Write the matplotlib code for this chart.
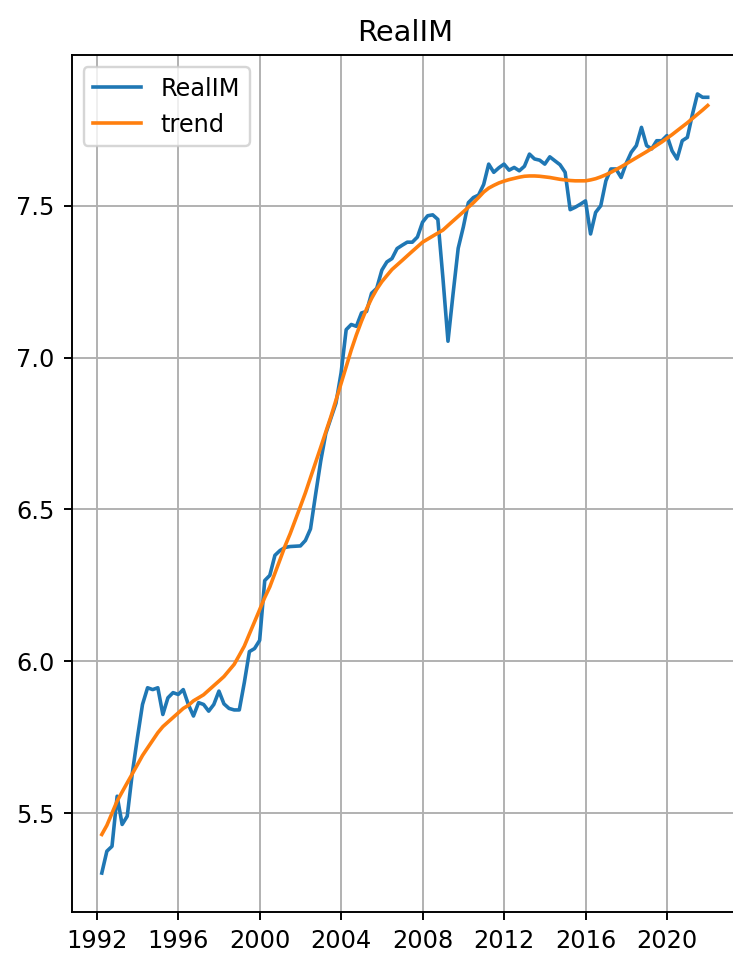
import matplotlib
matplotlib.use("Agg")
import matplotlib.pyplot as plt
import matplotlib.dates as mdates
import pandas as pd

# Quarterly observations, 1992Q1 .. 2021Q4 (quarter-end dates)
start_date = "1992-03-31"
n_quarters = 120

real_im = [
    5.303, 5.375, 5.391, 5.556,   # 1992
    5.463, 5.490, 5.633, 5.750,   # 1993
    5.858, 5.913, 5.907, 5.913,   # 1994
    5.825, 5.880, 5.897, 5.891,   # 1995
    5.907, 5.858, 5.820, 5.864,   # 1996
    5.858, 5.836, 5.858, 5.902,   # 1997
    5.860, 5.845, 5.840, 5.840,   # 1998
    5.930, 6.032, 6.042, 6.069,   # 1999
    6.266, 6.283, 6.349, 6.365,   # 2000
    6.375, 6.378, 6.379, 6.380,   # 2001
    6.398, 6.436, 6.550, 6.660,   # 2002
    6.750, 6.800, 6.850, 6.950,   # 2003
    7.092, 7.109, 7.103, 7.147,   # 2004
    7.152, 7.212, 7.228, 7.288,   # 2005
    7.315, 7.326, 7.359, 7.370,   # 2006
    7.380, 7.380, 7.397, 7.446,   # 2007
    7.467, 7.470, 7.455, 7.260,   # 2008
    7.054, 7.210, 7.360, 7.430,   # 2009
    7.510, 7.527, 7.535, 7.570,   # 2010
    7.637, 7.610, 7.625, 7.637,   # 2011
    7.617, 7.626, 7.615, 7.630,   # 2012
    7.670, 7.654, 7.650, 7.637,   # 2013
    7.661, 7.648, 7.635, 7.610,   # 2014
    7.487, 7.495, 7.505, 7.516,   # 2015
    7.407, 7.478, 7.500, 7.582,   # 2016
    7.621, 7.621, 7.593, 7.640,   # 2017
    7.676, 7.698, 7.758, 7.698,   # 2018
    7.687, 7.714, 7.714, 7.731,   # 2019
    7.681, 7.654, 7.714, 7.725,   # 2020
    7.800, 7.868, 7.857, 7.857,   # 2021
]

trend = [
    5.430, 5.460, 5.500, 5.540,   # 1992
    5.570, 5.600, 5.630, 5.660,   # 1993
    5.690, 5.715, 5.740, 5.765,   # 1994
    5.785, 5.800, 5.815, 5.830,   # 1995
    5.845, 5.855, 5.870, 5.880,   # 1996
    5.890, 5.905, 5.920, 5.935,   # 1997
    5.950, 5.970, 5.990, 6.020,   # 1998
    6.050, 6.090, 6.130, 6.170,   # 1999
    6.210, 6.245, 6.290, 6.335,   # 2000
    6.380, 6.420, 6.465, 6.510,   # 2001
    6.555, 6.605, 6.655, 6.705,   # 2002
    6.755, 6.805, 6.860, 6.915,   # 2003
    6.970, 7.025, 7.075, 7.120,   # 2004
    7.160, 7.195, 7.225, 7.250,   # 2005
    7.270, 7.290, 7.305, 7.320,   # 2006
    7.335, 7.350, 7.365, 7.380,   # 2007
    7.390, 7.400, 7.410, 7.420,   # 2008
    7.435, 7.450, 7.465, 7.480,   # 2009
    7.495, 7.510, 7.527, 7.545,   # 2010
    7.558, 7.567, 7.575, 7.581,   # 2011
    7.586, 7.590, 7.594, 7.597,   # 2012
    7.598, 7.598, 7.597, 7.595,   # 2013
    7.593, 7.590, 7.587, 7.585,   # 2014
    7.583, 7.582, 7.582, 7.582,   # 2015
    7.585, 7.589, 7.595, 7.602,   # 2016
    7.610, 7.619, 7.628, 7.638,   # 2017
    7.648, 7.658, 7.668, 7.678,   # 2018
    7.688, 7.699, 7.710, 7.722,   # 2019
    7.734, 7.747, 7.760, 7.773,   # 2020
    7.787, 7.801, 7.815, 7.830,   # 2021
]

dates = pd.date_range(start=start_date, periods=n_quarters, freq="QE")

DPI = 173
fig = plt.figure(figsize=(733 / DPI, 954 / DPI), dpi=DPI)
ax = fig.add_axes([71.5 / 733, 1 - 912 / 954, (738 - 71.5) / 733, (912 - 55) / 954])

ax.plot(dates, real_im, color="#1f77b4", linewidth=1.5, label="RealIM")
ax.plot(dates, trend, color="#ff7f0e", linewidth=1.5, label="trend")

ax.xaxis.set_major_locator(mdates.YearLocator(4))
ax.xaxis.set_major_formatter(mdates.DateFormatter("%Y"))
ax.grid(True)
ax.set_title("RealIM")
ax.legend(loc="upper left")

fig.savefig("out.png", dpi=DPI)
